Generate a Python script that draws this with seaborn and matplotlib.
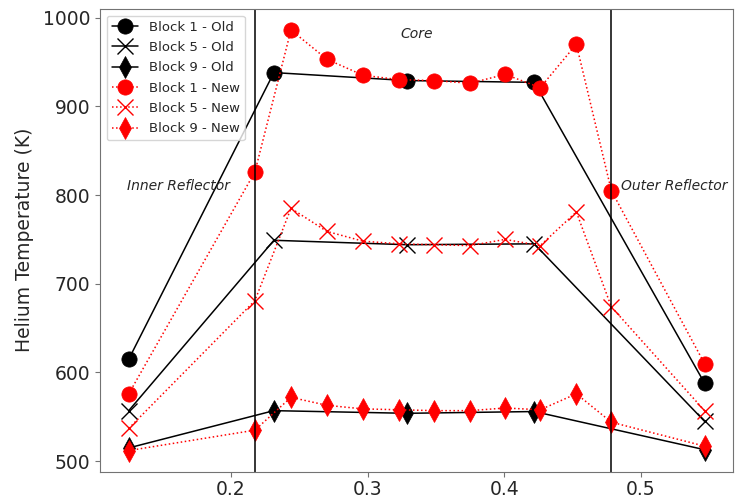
import matplotlib.pyplot as plt
import seaborn as sns
import numpy as np

# radial positions
r_old = [0.1253, 0.2315, 0.3290, 0.4220, 0.5466]
r_new = [0.1253, 0.2176, 0.2440, 0.2703, 0.2967, 0.3231, 0.3487,
         0.3751, 0.4007, 0.4264, 0.4528, 0.4784, 0.5466]

# helium temperatures (K)
b1_old = [615, 938, 929, 927, 588]
b5_old = [557, 749, 744, 745, 545]
b9_old = [515, 557, 554, 556, 513]

b1_new = [576, 826, 986, 953, 935, 930, 929, 926, 936, 921, 970, 805, 610]
b5_new = [537, 681, 785, 759, 748, 745, 744, 743, 750, 743, 781, 674, 557]
b9_new = [512, 535, 572, 563, 559, 558, 557, 557, 560, 558, 576, 544, 517]

# region boundaries
bounds = [0.2176, 0.4784]

sns.set_style('ticks')
plt.rcParams['font.family'] = ['DejaVu Sans']

fig, ax = plt.subplots(figsize=(7.46, 4.98), dpi=100)

old = [(b1_old, 'o', 'Block 1 - Old'), (b5_old, 'x', 'Block 5 - Old'),
       (b9_old, 'd', 'Block 9 - Old')]
new = [(b1_new, 'o', 'Block 1 - New'), (b5_new, 'x', 'Block 5 - New'),
       (b9_new, 'd', 'Block 9 - New')]

for vals, m, lab in old:
    sns.lineplot(x=r_old, y=vals, marker=m, color='black', linestyle='-',
                 linewidth=1.1, markersize=11, markeredgecolor='black',
                 markeredgewidth=1.0 if m == 'x' else 0.5, label=lab, ax=ax)

for vals, m, lab in new:
    sns.lineplot(x=r_new, y=vals, marker=m, color='red', linestyle=':',
                 linewidth=1.1, markersize=11, markeredgecolor='red',
                 markeredgewidth=1.0 if m == 'x' else 0.5, label=lab, ax=ax)

for b in bounds:
    ax.axvline(b, color='black', linewidth=1.1)

ax.text(0.336, 981, 'Core', style='italic', fontsize=10, ha='center', va='center')
ax.text(0.124, 810, 'Inner Reflector', style='italic', fontsize=10, ha='left', va='center')
ax.text(0.4857, 810, 'Outer Reflector', style='italic', fontsize=10, ha='left', va='center')

ax.set_ylabel('Helium Temperature (K)', fontsize=13.5, labelpad=6)
ax.tick_params(labelsize=13.5, color='0.45', width=0.8)
ax.tick_params(axis='x', pad=2.5)
for s in ax.spines.values():
    s.set_color('0.45')
    s.set_linewidth(0.8)
ax.set_yticks([500, 600, 700, 800, 900, 1000])
ax.set_xticks([0.2, 0.3, 0.4, 0.5])
ax.legend(loc='upper left', fontsize=9.5, handlelength=2.0, labelspacing=0.55)

fig.subplots_adjust(left=0.134, right=0.983, top=0.982, bottom=0.053)
plt.savefig('out.png', dpi=100)
